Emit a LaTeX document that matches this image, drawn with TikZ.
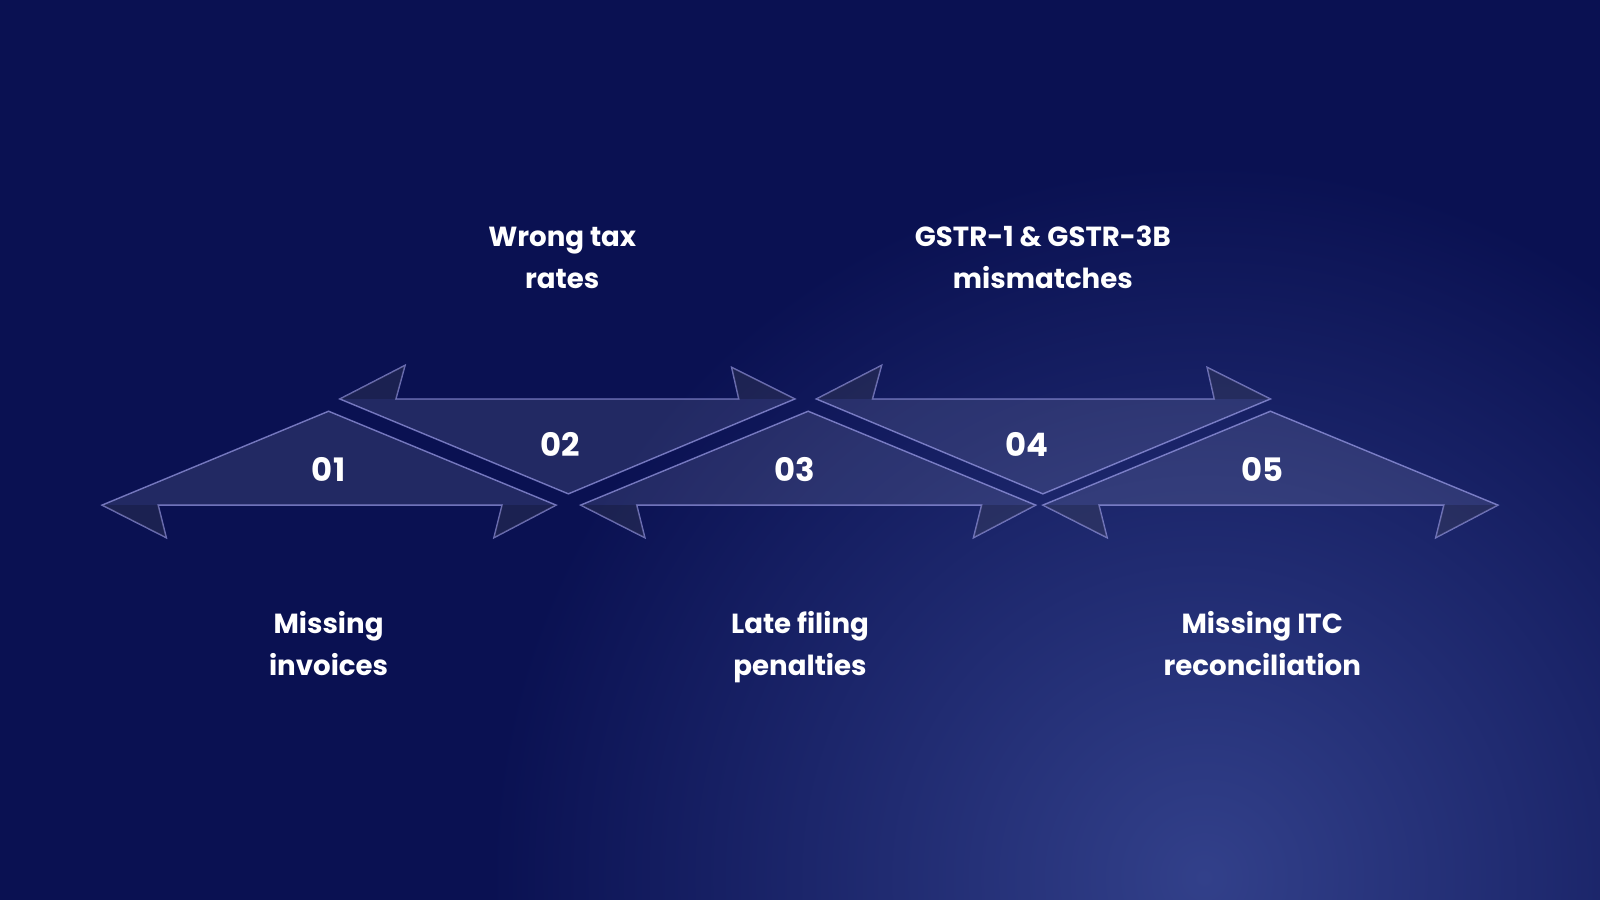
\documentclass[tikz,border=0pt]{standalone}
\usepackage{fontspec}
\setmainfont{Poppins}
\definecolor{bgtop}{RGB}{10,17,82}
\definecolor{glow}{RGB}{50,64,138}
\begin{document}
\begin{tikzpicture}[x=0.01cm,y=-0.01cm,
  arrowbody/.style={fill=white,fill opacity=0.10,draw=white!70!blue,draw opacity=0.6,line width=0.4pt},
  barb/.style={fill=black,fill opacity=0.18},
  num/.style={text=white,font=\bfseries\fontsize{9pt}{10pt}\selectfont},
  lab/.style={text=white,font=\bfseries\fontsize{7.7pt}{11.8pt}\selectfont,align=center}]
\useasboundingbox (0,0) rectangle (1568,882);
\fill[bgtop] (0,0) rectangle (1568,882);
\begin{scope}
\clip (0,0) rectangle (1568,882);
\shade[inner color=glow,outer color=bgtop] (1180,860) circle (700);
\end{scope}
\foreach \l/\r/\c in {100/545/322,569/1015/792,1022/1468/1245}{
  \filldraw[arrowbody] (\l,495) -- (\c,403) -- (\r,495) -- (\r-61,527) -- (\r-53,495) -- (\l+55,495) -- (\l+63,527) -- cycle;
  \fill[barb] (\l,495) -- (\l+63,527) -- (\l+55,495) -- cycle;
  \fill[barb] (\r,495) -- (\r-61,527) -- (\r-53,495) -- cycle;
}
\foreach \l/\r/\c in {333/779/557,800/1245/1022}{
  \filldraw[arrowbody] (\l,391) -- (\c,484) -- (\r,391) -- (\r-62,360) -- (\r-55,391) -- (\l+55,391) -- (\l+64,358) -- cycle;
  \fill[barb] (\l,391) -- (\l+64,358) -- (\l+55,391) -- cycle;
  \fill[barb] (\r,391) -- (\r-62,360) -- (\r-55,391) -- cycle;
}
\node[num] (n1) at (322,460) {01};
\node[num] (n2) at (549,436) {02};
\node[num] (n3) at (779,460) {03};
\node[num] (n4) at (1006,436) {04};
\node[num] (n5) at (1237,460) {05};
\node[lab] (l1) at (322,633) {\strut Missing\\invoices\strut};
\node[lab] (l2) at (551,254) {\strut Wrong tax\\rates\strut};
\node[lab] (l3) at (784,633) {\strut Late filing\\penalties\strut};
\node[lab] (l4) at (1022,254) {\strut GSTR-1 \& GSTR-3B\\mismatches\strut};
\node[lab] (l5) at (1237,633) {\strut Missing ITC\\reconciliation\strut};
\end{tikzpicture}
\end{document}
